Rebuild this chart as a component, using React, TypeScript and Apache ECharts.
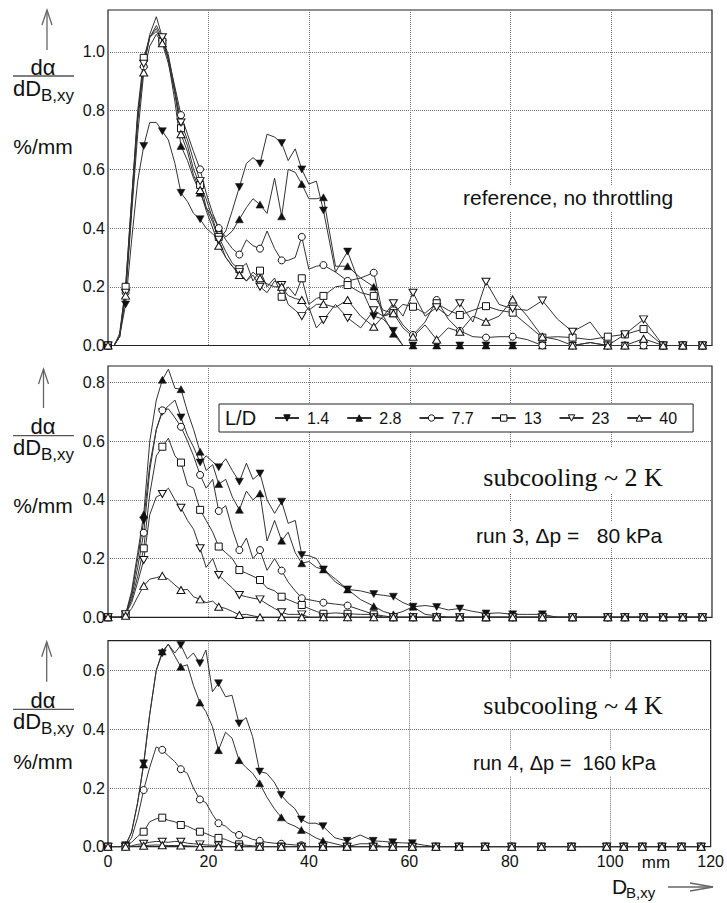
import React, { useEffect, useRef } from 'react';
import * as echarts from 'echarts';

const FONT = '"Liberation Sans", Arial, Helvetica, sans-serif';
const SERIF = '"Liberation Serif", "Times New Roman", serif';

// bubble diameter D_B,xy (mm) of each bin
const X_MM = [0, 1.2, 2.3, 3.5, 4.7, 5.9, 7.1, 8.3, 9.6, 10.8,
  12.0, 13.3, 14.5, 15.8, 17.0, 18.3, 19.5, 20.8, 22.0, 23.4,
  24.7, 26.1, 27.5, 28.8, 30.2, 31.6, 33.1, 34.5, 35.8, 37.2,
  38.5, 39.9, 41.4, 42.8, 45.2, 47.6, 50.2, 52.8, 54.7, 56.7,
  58.6, 60.6, 63.0, 65.3, 67.6, 69.9, 72.5, 75.1, 77.7, 80.4,
  83.3, 86.3, 89.3, 92.3, 95.8, 99.3, 102.7, 106.4, 110.3, 114.2,
  118.1];

// bins that carry a marker symbol
const MARKER_MM = [0, 3.5, 7.1, 10.8, 14.5, 18.3, 22.0, 26.1, 30.2, 34.5, 38.5, 42.8, 47.6, 52.8, 56.7,
  60.6, 65.3, 69.9, 75.1, 80.4, 86.3, 92.3, 99.3, 102.7, 106.4, 110.3, 114.2, 118.1];

const LD_NAMES = ['1.4', '2.8', '7.7', '13', '23', '40'];

// ---- panel 1: reference, no throttling
const T_14 = [0, 0, 0.03, 0.14, 0.36, 0.56, 0.68, 0.76, 0.76, 0.73,
  0.70, 0.62, 0.52, 0.49, 0.45, 0.43, 0.40, 0.38, 0.36, 0.39,
  0.46, 0.54, 0.62, 0.64, 0.62, 0.72, 0.71, 0.69, 0.63, 0.67,
  0.60, 0.55, 0.56, 0.46, 0.25, 0.32, 0.20, 0.10, 0.09, 0.05,
  0, 0, 0, 0, 0, 0, 0, 0, 0, 0,
  0, 0, 0, 0, 0, 0, 0, 0, 0, 0,
  0];
const T_28 = [0, 0, 0.04, 0.20, 0.50, 0.78, 0.96, 1.05, 1.09, 1.05,
  0.97, 0.83, 0.68, 0.63, 0.57, 0.52, 0.47, 0.44, 0.40, 0.37,
  0.39, 0.43, 0.47, 0.50, 0.48, 0.45, 0.57, 0.44, 0.60, 0.59,
  0.55, 0.50, 0.50, 0.505, 0.27, 0.27, 0.23, 0.20, 0.10, 0.04,
  0, 0, 0, 0, 0, 0, 0, 0, 0, 0,
  0, 0, 0, 0, 0, 0, 0, 0, 0, 0,
  0];
const T_77 = [0, 0, 0.03, 0.18, 0.47, 0.76, 0.95, 1.05, 1.08, 1.04,
  0.98, 0.88, 0.785, 0.72, 0.66, 0.60, 0.52, 0.45, 0.40, 0.36,
  0.33, 0.31, 0.36, 0.34, 0.33, 0.39, 0.33, 0.29, 0.29, 0.30,
  0.37, 0.26, 0.27, 0.274, 0.25, 0.22, 0.23, 0.248, 0.10, 0.12,
  0.07, 0.036, 0.08, 0.155, 0.09, 0.05, 0.03, 0.027, 0.03, 0.03,
  0.02, 0, 0, 0, 0.01, 0, 0, 0, 0, 0,
  0];
const T_13 = [0, 0, 0.03, 0.20, 0.50, 0.80, 0.98, 1.05, 1.07, 1.035,
  0.98, 0.86, 0.74, 0.68, 0.60, 0.547, 0.50, 0.43, 0.37, 0.32,
  0.28, 0.26, 0.28, 0.22, 0.255, 0.20, 0.23, 0.166, 0.20, 0.17,
  0.229, 0.14, 0.16, 0.169, 0.20, 0.206, 0.18, 0.169, 0.12, 0.11,
  0.14, 0.132, 0.11, 0.144, 0.12, 0.104, 0.12, 0.134, 0.12, 0.112,
  0.07, 0.027, 0.03, 0.027, 0.02, 0.03, 0.038, 0.056, 0, 0,
  0];
const T_23 = [0, 0, 0.03, 0.18, 0.48, 0.78, 0.96, 1.06, 1.12, 1.05,
  0.99, 0.87, 0.76, 0.70, 0.63, 0.56, 0.47, 0.42, 0.36, 0.30,
  0.27, 0.25, 0.22, 0.24, 0.20, 0.18, 0.22, 0.206, 0.14, 0.12,
  0.10, 0.13, 0.06, 0.087, 0.14, 0.094, 0.06, 0.12, 0.10, 0.144,
  0.10, 0.18, 0.10, 0.13, 0.10, 0.144, 0.08, 0.217, 0.14, 0.125,
  0.12, 0.153, 0.09, 0.047, 0.08, 0, 0.038, 0.089, 0, 0,
  0];
const T_40 = [0, 0, 0.03, 0.17, 0.45, 0.72, 0.93, 1.02, 1.06, 1.03,
  0.96, 0.86, 0.72, 0.66, 0.58, 0.53, 0.46, 0.40, 0.34, 0.30,
  0.27, 0.24, 0.22, 0.25, 0.229, 0.21, 0.20, 0.20, 0.17, 0.16,
  0.155, 0.12, 0.14, 0.141, 0.13, 0.155, 0.10, 0.064, 0.10, 0.11,
  0.06, 0.03, 0.07, 0.02, 0.06, 0.047, 0.10, 0.081, 0.10, 0.157,
  0.10, 0.03, 0.02, 0, 0.01, 0, 0, 0.023, 0, 0,
  0];

// ---- panel 2: subcooling ~ 2 K, run 3
const M_14 = [0, 0, 0, 0.01, 0.08, 0.20, 0.33, 0.52, 0.64, 0.70,
  0.72, 0.74, 0.681, 0.62, 0.58, 0.527, 0.55, 0.53, 0.511, 0.54,
  0.50, 0.462, 0.525, 0.47, 0.49, 0.40, 0.354, 0.394, 0.32, 0.33,
  0.212, 0.21, 0.20, 0.163, 0.13, 0.095, 0.09, 0.079, 0.075, 0.07,
  0.05, 0.036, 0.04, 0.035, 0.025, 0.03, 0.02, 0.013, 0.015, 0.01,
  0.01, 0.01, 0, 0, 0, 0, 0, 0, 0, 0,
  0];
const M_28 = [0, 0, 0, 0.01, 0.09, 0.22, 0.35, 0.60, 0.74, 0.809,
  0.845, 0.78, 0.777, 0.70, 0.64, 0.564, 0.50, 0.52, 0.454, 0.47,
  0.41, 0.366, 0.43, 0.40, 0.422, 0.26, 0.33, 0.261, 0.29, 0.22,
  0.184, 0.19, 0.17, 0.163, 0.12, 0.095, 0.06, 0.038, 0.02, 0.01,
  0.02, 0.036, 0.01, 0.005, 0, 0, 0, 0, 0, 0,
  0, 0, 0, 0, 0, 0, 0, 0, 0, 0,
  0];
const M_77 = [0, 0, 0, 0.01, 0.07, 0.17, 0.288, 0.50, 0.64, 0.705,
  0.71, 0.68, 0.649, 0.60, 0.55, 0.485, 0.44, 0.47, 0.362, 0.38,
  0.30, 0.229, 0.27, 0.20, 0.229, 0.16, 0.20, 0.159, 0.12, 0.09,
  0.065, 0.06, 0.055, 0.05, 0.045, 0.04, 0.025, 0.01, 0.005, 0,
  0, 0, 0, 0, 0, 0, 0, 0, 0, 0,
  0, 0, 0, 0, 0, 0, 0, 0, 0, 0,
  0];
const M_13 = [0, 0, 0, 0.01, 0.06, 0.14, 0.235, 0.42, 0.55, 0.581,
  0.61, 0.55, 0.527, 0.45, 0.44, 0.366, 0.33, 0.29, 0.241, 0.22,
  0.20, 0.161, 0.15, 0.14, 0.127, 0.10, 0.09, 0.07, 0.06, 0.05,
  0.042, 0.03, 0.02, 0.012, 0.015, 0.012, 0.01, 0.01, 0, 0,
  0, 0, 0, 0, 0, 0, 0, 0, 0, 0,
  0, 0, 0, 0, 0, 0, 0, 0, 0, 0,
  0];
const M_23 = [0, 0, 0, 0.01, 0.05, 0.12, 0.195, 0.35, 0.41, 0.42,
  0.44, 0.40, 0.373, 0.33, 0.30, 0.235, 0.17, 0.20, 0.144, 0.12,
  0.10, 0.076, 0.07, 0.065, 0.061, 0.045, 0.03, 0.017, 0.01, 0.01,
  0.01, 0, 0, 0, 0, 0, 0, 0, 0, 0,
  0, 0, 0, 0, 0, 0, 0, 0, 0, 0,
  0, 0, 0, 0, 0, 0, 0, 0, 0, 0,
  0];
const M_40 = [0, 0, 0, 0.005, 0.03, 0.07, 0.107, 0.13, 0.135, 0.141,
  0.13, 0.11, 0.093, 0.095, 0.07, 0.061, 0.05, 0.055, 0.036, 0.03,
  0.02, 0.008, 0.01, 0.005, 0, 0, 0, 0, 0, 0,
  0, 0, 0, 0, 0, 0, 0, 0, 0, 0,
  0, 0, 0, 0, 0, 0, 0, 0, 0, 0,
  0, 0, 0, 0, 0, 0, 0, 0, 0, 0,
  0];

// ---- panel 3: subcooling ~ 4 K, run 4
const B_14 = [0, 0, 0, 0.005, 0.05, 0.15, 0.284, 0.45, 0.60, 0.659,
  0.69, 0.66, 0.687, 0.64, 0.66, 0.625, 0.67, 0.528, 0.557, 0.511,
  0.516, 0.42, 0.44, 0.375, 0.256, 0.25, 0.22, 0.176, 0.15, 0.13,
  0.093, 0.08, 0.08, 0.07, 0.03, 0.02, 0.04, 0.02, 0.018, 0.015,
  0.013, 0.012, 0.005, 0, 0, 0, 0, 0, 0, 0,
  0, 0, 0, 0, 0, 0, 0, 0, 0, 0,
  0];
const B_28 = [0, 0, 0, 0.005, 0.05, 0.15, 0.28, 0.45, 0.60, 0.665,
  0.69, 0.65, 0.613, 0.62, 0.55, 0.491, 0.46, 0.409, 0.329, 0.39,
  0.37, 0.295, 0.27, 0.25, 0.216, 0.17, 0.13, 0.10, 0.08, 0.07,
  0.057, 0.045, 0.03, 0.02, 0.01, 0, 0.01, 0.01, 0, 0,
  0, 0, 0, 0, 0, 0, 0, 0, 0, 0,
  0, 0, 0, 0, 0, 0, 0, 0, 0, 0,
  0];
const B_77 = [0, 0, 0, 0.003, 0.03, 0.10, 0.193, 0.27, 0.34, 0.33,
  0.31, 0.29, 0.264, 0.25, 0.20, 0.161, 0.15, 0.11, 0.08, 0.07,
  0.05, 0.04, 0.035, 0.025, 0.02, 0.015, 0.012, 0.01, 0.008, 0.006,
  0.005, 0, 0, 0, 0, 0, 0, 0, 0, 0,
  0, 0, 0, 0, 0, 0, 0, 0, 0, 0,
  0, 0, 0, 0, 0, 0, 0, 0, 0, 0,
  0];
const B_13 = [0, 0, 0, 0.002, 0.015, 0.035, 0.051, 0.085, 0.095, 0.099,
  0.09, 0.085, 0.074, 0.07, 0.06, 0.051, 0.045, 0.035, 0.03, 0.025,
  0.015, 0.008, 0.005, 0.003, 0, 0, 0, 0, 0, 0,
  0, 0, 0, 0, 0, 0, 0, 0, 0, 0,
  0, 0, 0, 0, 0, 0, 0, 0, 0, 0,
  0, 0, 0, 0, 0, 0, 0, 0, 0, 0,
  0];
const B_23 = [0, 0, 0, 0, 0.003, 0.008, 0.01, 0.015, 0.018, 0.017,
  0.015, 0.018, 0.017, 0.012, 0.01, 0.008, 0.006, 0.005, 0.004, 0,
  0, 0, 0, 0, 0, 0, 0, 0, 0, 0,
  0, 0, 0, 0, 0, 0, 0, 0, 0, 0,
  0, 0, 0, 0, 0, 0, 0, 0, 0, 0,
  0, 0, 0, 0, 0, 0, 0, 0, 0, 0,
  0];
const B_40 = [0, 0, 0, 0, 0, 0.002, 0.003, 0.005, 0.006, 0.005,
  0.004, 0.004, 0.004, 0.003, 0.002, 0, 0, 0, 0, 0,
  0, 0, 0, 0, 0, 0, 0, 0, 0, 0,
  0, 0, 0, 0, 0, 0, 0, 0, 0, 0,
  0, 0, 0, 0, 0, 0, 0, 0, 0, 0,
  0, 0, 0, 0, 0, 0, 0, 0, 0, 0,
  0];

const Y_MAX = [1.143, 0.856, 0.702];

const MARKERS = [
  { symbol: 'triangle', size: [8, 7], rotate: 180, filled: true },
  { symbol: 'triangle', size: [8, 7], rotate: 0, filled: true },
  { symbol: 'circle', size: 7, rotate: 0, filled: false },
  { symbol: 'rect', size: 7, rotate: 0, filled: false },
  { symbol: 'triangle', size: [8, 7], rotate: 180, filled: false },
  { symbol: 'triangle', size: [8, 7], rotate: 0, filled: false },
];

const GRIDS = [
  { left: 108, top: 10, width: 604, height: 335.5 },
  { left: 108, top: 366, width: 604, height: 251.3 },
  { left: 108, top: 640.7, width: 604, height: 206 },
];

function toData(ys: number[]) {
  const set = new Set(MARKER_MM);
  return X_MM.map((x, i) => (set.has(x) ? [x, ys[i]] : { value: [x, ys[i]], symbol: 'none' }));
}

function buildOption() {
  const panels = [
    [T_14, T_28, T_77, T_13, T_23, T_40],
    [M_14, M_28, M_77, M_13, M_23, M_40],
    [B_14, B_28, B_77, B_13, B_23, B_40],
  ];
  const series: any[] = [];
  panels.forEach((p, pi) => {
    p.forEach((ys, si) => {
      const m = MARKERS[si];
      series.push({
        type: 'line',
        name: LD_NAMES[si],
        xAxisIndex: pi,
        yAxisIndex: pi,
        data: toData(ys),
        symbol: m.symbol,
        symbolSize: m.size,
        symbolRotate: m.rotate,
        itemStyle: m.filled
          ? { color: '#111', borderColor: '#111', borderWidth: 0.5 }
          : { color: '#fff', borderColor: '#111', borderWidth: 1 },
        lineStyle: { color: '#333', width: 1 },
        emphasis: { disabled: true },
        silent: true,
        z: 2,
      });
    });
  });

  const yLabelFmt = (v: number) => {
    const k = Math.round(v / 0.2);
    return Math.abs(v - k * 0.2) < 1e-6 ? v.toFixed(1) : '';
  };

  const g: any[] = [];
  const txt = (text: string, x: number, y: number, size: number, align = 'left', family = FONT, z = 6) => ({
    type: 'text', x, y, z,
    style: { text, fontSize: size, fontFamily: family, fill: '#111', align, verticalAlign: 'middle' },
  });
  // y-axis titles
  const yt = [
    [47, 10, 50, 76, 146],
    [43.5, 369, 408, 435.7, 505],
    [46.7, 641.7, 681.7, 709.3, 761.5],
  ];
  yt.forEach(([ax, at, ab, fy, py]) => {
    g.push({ type: 'line', z: 6, shape: { x1: ax, y1: ab, x2: ax, y2: at }, style: { stroke: '#666', lineWidth: 1.3 } });
    g.push({ type: 'polyline', z: 6, shape: { points: [[ax - 5, at + 15], [ax, at], [ax + 5, at + 15]] }, style: { stroke: '#666', lineWidth: 1.3, fill: null } });
    g.push(txt('dα', 43, fy - 9, 22, 'center'));
    g.push({ type: 'line', z: 6, shape: { x1: 13, y1: fy, x2: 74, y2: fy }, style: { stroke: '#555', lineWidth: 1.3 } });
    g.push(txt('dD', 13, fy + 12, 22));
    g.push(txt('B,xy', 41, fy + 19, 17));
    g.push(txt('%/mm', 43, py, 21, 'center'));
  });
  // x-axis title
  g.push(txt('mm', 656, 862, 17, 'center'));
  g.push(txt('D', 612, 886, 21));
  g.push(txt('B,xy', 626, 892, 15));
  g.push({ type: 'line', z: 6, shape: { x1: 668, y1: 887, x2: 713, y2: 887 }, style: { stroke: '#666', lineWidth: 1.3 } });
  g.push({ type: 'polyline', z: 6, shape: { points: [[690, 883], [713, 887], [690, 891]] }, style: { stroke: '#666', lineWidth: 1.3, fill: null } });

  // annotation boxes
  const box = (x: number, y: number, w: number, h: number) => ({
    type: 'rect', z: 1, shape: { x, y, width: w, height: h }, style: { fill: '#fff', stroke: null },
  });
  g.push(box(458, 185, 222, 26));
  g.push(txt('reference, no throttling', 463, 197, 21));
  g.push(box(460, 448, 233, 45));
  g.push(txt('subcooling ~ 2 K', 573, 477, 26, 'center', SERIF));
  g.push(box(470, 522, 198, 26));
  g.push(txt('run 3, Δp =   80 kPa', 476, 535, 21));
  g.push(box(462, 679, 231, 50));
  g.push(txt('subcooling ~ 4 K', 573, 705, 26, 'center', SERIF));
  g.push(box(467, 750, 197, 26));
  g.push(txt('run 4, Δp =  160 kPa', 473, 763, 20));
  // legend title
  g.push(txt('L/D', 225, 418, 20, 'left', FONT, 20));

  return {
    animation: false,
    backgroundColor: '#fff',
    grid: GRIDS.map((gr) => ({ ...gr, show: true, borderColor: '#222', borderWidth: 1.2, backgroundColor: 'transparent' })),
    xAxis: GRIDS.map((_, i) => ({
      type: 'value', gridIndex: i, min: 0, max: 120, interval: 20,
      axisLine: { show: false }, axisTick: { show: false },
      axisLabel: { show: i === 2, fontFamily: FONT, fontSize: 16, color: '#111', margin: 7, showMinLabel: true, showMaxLabel: true },
      splitLine: { show: true, showMinLine: false, showMaxLine: false, lineStyle: { color: '#777', type: [1, 1], width: 1 } },
    })),
    yAxis: GRIDS.map((_, i) => ({
      type: 'value', gridIndex: i, min: 0, max: Y_MAX[i], interval: 0.2,
      axisLine: { show: false }, axisTick: { show: false },
      axisLabel: { fontFamily: FONT, fontSize: 16, color: '#111', margin: 3, formatter: yLabelFmt },
      splitLine: { show: true, showMinLine: false, showMaxLine: false, lineStyle: { color: '#777', type: [1, 1], width: 1 } },
    })),
    legend: {
      data: LD_NAMES,
      left: 219, top: 404,
      padding: [6, 16, 6, 55],
      itemWidth: 24, itemHeight: 8, itemGap: 17,
      borderColor: '#222', borderWidth: 1, backgroundColor: '#fff',
      itemStyle: { borderWidth: 1 },
      textStyle: { fontFamily: FONT, fontSize: 16, color: '#111', padding: [0, 0, 0, 3] },
      selectedMode: false,
      z: 10,
    },
    graphic: { elements: g },
    series,
  };
}

export default function App() {
  const ref = useRef<HTMLDivElement>(null);
  useEffect(() => {
    if (!ref.current) return;
    const chart = echarts.init(ref.current, null, { renderer: 'svg' });
    chart.setOption(buildOption() as any);
    return () => chart.dispose();
  }, []);
  return <div ref={ref} style={{ position: 'absolute', left: 0, top: 0, width: 727, height: 903, background: '#fff' }} />;
}
